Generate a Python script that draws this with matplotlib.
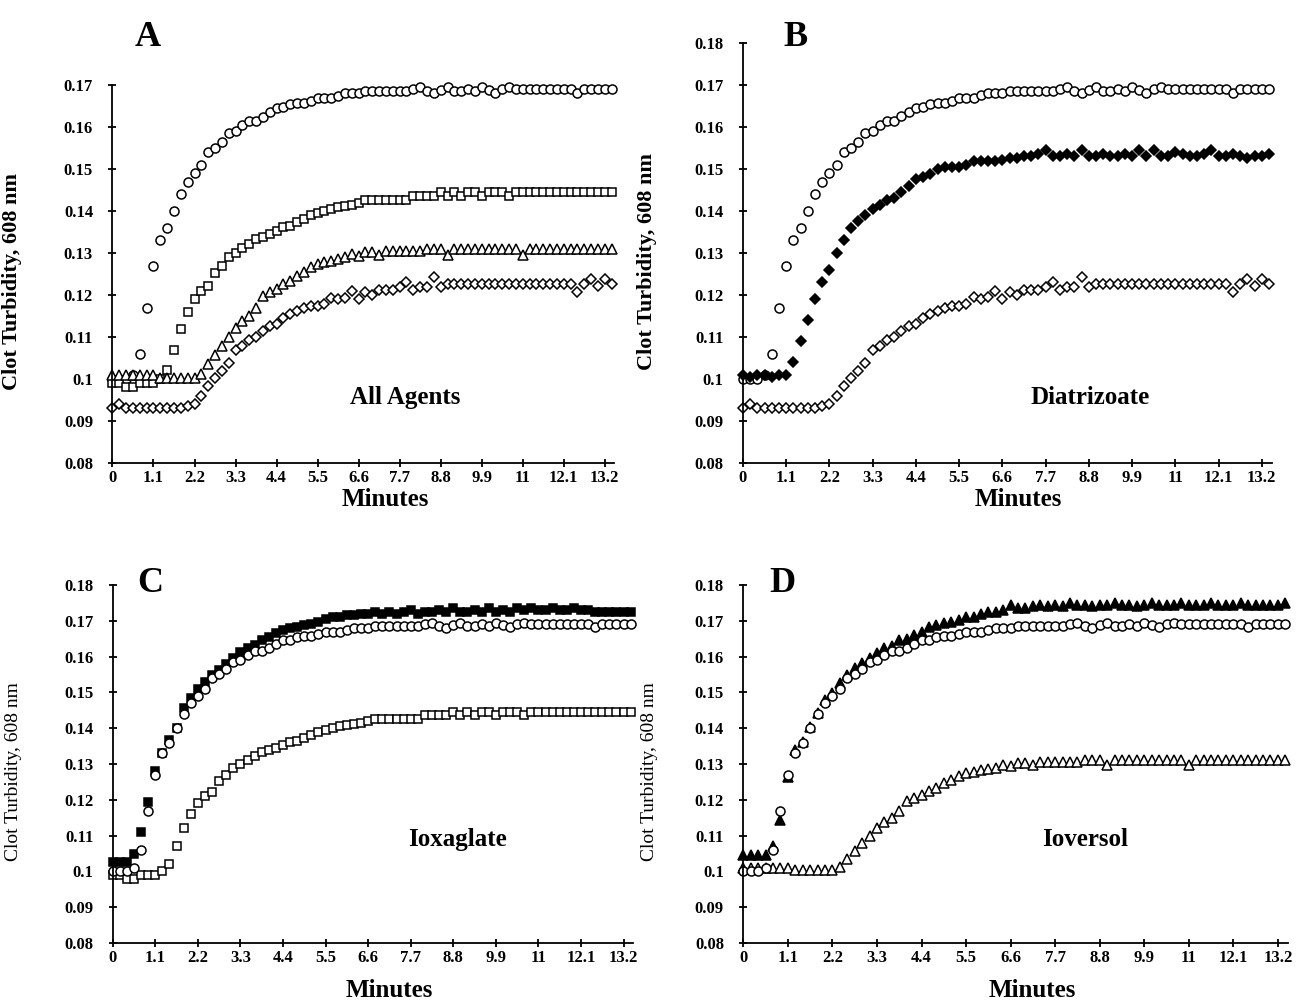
import numpy as np
import matplotlib
matplotlib.use("Agg")
import matplotlib.pyplot as plt
from matplotlib.ticker import FuncFormatter, MultipleLocator

plt.rcParams["font.family"] = ["Liberation Serif", "DejaVu Serif"]

# readings every 11 s, 74 samples
n_points = 74
minutes = np.arange(n_points) * 11 / 60.0

x_ticks = [0, 1.1, 2.2, 3.3, 4.4, 5.5, 6.6, 7.7, 8.8, 9.9, 11, 12.1, 13.2]

# control (open circle), shared by all panels
control = [
    0.1000, 0.1000, 0.1000, 0.1010, 0.1060, 0.1170, 0.1270, 0.1330, 0.1360, 0.1400,
    0.1440, 0.1470, 0.1490, 0.1510, 0.1540, 0.1550, 0.1565, 0.1585, 0.1590, 0.1605,
    0.1615, 0.1615, 0.1625, 0.1635, 0.1645, 0.1647, 0.1655, 0.1657, 0.1657, 0.1662,
    0.1668, 0.1668, 0.1668, 0.1675, 0.1680, 0.1680, 0.1680, 0.1686, 0.1686, 0.1686,
    0.1686, 0.1686, 0.1686, 0.1686, 0.1690, 0.1695, 0.1686, 0.1680, 0.1688, 0.1695,
    0.1686, 0.1686, 0.1690, 0.1686, 0.1695, 0.1688, 0.1682, 0.1690, 0.1695, 0.1690,
    0.1690, 0.1690, 0.1690, 0.1690, 0.1690, 0.1690, 0.1690, 0.1690, 0.1682, 0.1690,
    0.1690, 0.1690, 0.1690, 0.1690,
]

# ioxaglate alone (open square)
ioxaglate = [
    0.0990, 0.0990, 0.0980, 0.0980, 0.0990, 0.0990, 0.0990, 0.1000, 0.1022, 0.1070,
    0.1120, 0.1160, 0.1190, 0.1210, 0.1222, 0.1252, 0.1270, 0.1290, 0.1300, 0.1312,
    0.1322, 0.1334, 0.1338, 0.1345, 0.1353, 0.1361, 0.1365, 0.1373, 0.1380, 0.1390,
    0.1395, 0.1400, 0.1405, 0.1410, 0.1413, 0.1415, 0.1420, 0.1425, 0.1425, 0.1425,
    0.1425, 0.1425, 0.1425, 0.1425, 0.1436, 0.1436, 0.1436, 0.1436, 0.1445, 0.1436,
    0.1445, 0.1436, 0.1445, 0.1445, 0.1436, 0.1445, 0.1445, 0.1445, 0.1436, 0.1445,
    0.1445, 0.1445, 0.1445, 0.1445, 0.1445, 0.1445, 0.1445, 0.1445, 0.1445, 0.1445,
    0.1445, 0.1445, 0.1445, 0.1445,
]

# ioversol alone (open triangle)
ioversol = [
    0.1010, 0.1010, 0.1010, 0.1010, 0.1010, 0.1010, 0.1010, 0.1003, 0.1003, 0.1003,
    0.1003, 0.1003, 0.1003, 0.1012, 0.1035, 0.1058, 0.1078, 0.1100, 0.1122, 0.1138,
    0.1150, 0.1170, 0.1198, 0.1206, 0.1214, 0.1226, 0.1234, 0.1246, 0.1254, 0.1266,
    0.1274, 0.1278, 0.1282, 0.1286, 0.1290, 0.1298, 0.1294, 0.1302, 0.1302, 0.1296,
    0.1305, 0.1305, 0.1305, 0.1305, 0.1305, 0.1305, 0.1310, 0.1310, 0.1310, 0.1296,
    0.1310, 0.1310, 0.1310, 0.1310, 0.1310, 0.1310, 0.1310, 0.1310, 0.1310, 0.1310,
    0.1296, 0.1310, 0.1310, 0.1310, 0.1310, 0.1310, 0.1310, 0.1310, 0.1310, 0.1310,
    0.1310, 0.1310, 0.1310, 0.1310,
]

# diatrizoate alone (open diamond)
diatrizoate = [
    0.0930, 0.0940, 0.0930, 0.0930, 0.0930, 0.0930, 0.0930, 0.0930, 0.0930, 0.0930,
    0.0930, 0.0935, 0.0940, 0.0960, 0.0983, 0.1003, 0.1018, 0.1038, 0.1068, 0.1078,
    0.1093, 0.1100, 0.1114, 0.1126, 0.1130, 0.1146, 0.1154, 0.1162, 0.1170, 0.1174,
    0.1174, 0.1178, 0.1194, 0.1190, 0.1194, 0.1210, 0.1190, 0.1206, 0.1200, 0.1212,
    0.1212, 0.1212, 0.1218, 0.1230, 0.1212, 0.1220, 0.1220, 0.1242, 0.1220, 0.1226,
    0.1226, 0.1226, 0.1226, 0.1226, 0.1226, 0.1226, 0.1226, 0.1226, 0.1226, 0.1226,
    0.1226, 0.1226, 0.1226, 0.1226, 0.1226, 0.1226, 0.1226, 0.1226, 0.1206, 0.1226,
    0.1238, 0.1222, 0.1238, 0.1226,
]

# treated samples (filled markers)
diatrizoate_filled = [
    0.1010, 0.1005, 0.1010, 0.1010, 0.1005, 0.1010, 0.1010, 0.1040, 0.1090, 0.1140,
    0.1190, 0.1230, 0.1260, 0.1300, 0.1330, 0.1360, 0.1375, 0.1390, 0.1405, 0.1415,
    0.1425, 0.1432, 0.1445, 0.1460, 0.1475, 0.1482, 0.1487, 0.1500, 0.1505, 0.1505,
    0.1505, 0.1510, 0.1520, 0.1520, 0.1520, 0.1520, 0.1522, 0.1525, 0.1525, 0.1530,
    0.1530, 0.1535, 0.1545, 0.1530, 0.1530, 0.1535, 0.1530, 0.1545, 0.1530, 0.1530,
    0.1535, 0.1530, 0.1530, 0.1535, 0.1530, 0.1545, 0.1530, 0.1545, 0.1530, 0.1530,
    0.1540, 0.1535, 0.1530, 0.1530, 0.1535, 0.1545, 0.1530, 0.1530, 0.1535, 0.1530,
    0.1525, 0.1530, 0.1530, 0.1535,
]

ioxaglate_filled = [
    0.1027, 0.1027, 0.1027, 0.1050, 0.1110, 0.1195, 0.1280, 0.1332, 0.1367, 0.1400,
    0.1456, 0.1484, 0.1510, 0.1530, 0.1549, 0.1563, 0.1580, 0.1595, 0.1614, 0.1623,
    0.1632, 0.1646, 0.1655, 0.1665, 0.1674, 0.1680, 0.1683, 0.1688, 0.1690, 0.1697,
    0.1705, 0.1710, 0.1710, 0.1715, 0.1716, 0.1720, 0.1720, 0.1725, 0.1720, 0.1725,
    0.1720, 0.1725, 0.1730, 0.1720, 0.1725, 0.1725, 0.1730, 0.1725, 0.1735, 0.1725,
    0.1725, 0.1730, 0.1725, 0.1735, 0.1725, 0.1730, 0.1725, 0.1735, 0.1730, 0.1735,
    0.1730, 0.1730, 0.1735, 0.1730, 0.1730, 0.1735, 0.1730, 0.1730, 0.1725, 0.1725,
    0.1725, 0.1725, 0.1725, 0.1725,
]

ioversol_filled = [
    0.1046, 0.1046, 0.1046, 0.1046, 0.1070, 0.1144, 0.1265, 0.1339, 0.1362, 0.1404,
    0.1442, 0.1479, 0.1497, 0.1525, 0.1549, 0.1567, 0.1581, 0.1595, 0.1609, 0.1623,
    0.1630, 0.1646, 0.1650, 0.1660, 0.1670, 0.1684, 0.1688, 0.1693, 0.1697, 0.1702,
    0.1711, 0.1711, 0.1720, 0.1725, 0.1725, 0.1730, 0.1744, 0.1735, 0.1735, 0.1740,
    0.1745, 0.1740, 0.1745, 0.1740, 0.1750, 0.1745, 0.1745, 0.1740, 0.1745, 0.1745,
    0.1750, 0.1745, 0.1745, 0.1740, 0.1745, 0.1750, 0.1745, 0.1745, 0.1745, 0.1750,
    0.1745, 0.1745, 0.1745, 0.1750, 0.1745, 0.1745, 0.1745, 0.1750, 0.1745, 0.1745,
    0.1745, 0.1745, 0.1745, 0.1750,
]

MARKERS = {
    "circle": ("o", 6.5),
    "square": ("s", 6.3),
    "triangle": ("^", 7.5),
    "diamond": ("D", 5.0),
}

# letter, title, y max, axes rect (figure coords), series in drawing order,
# title position (data), ylabel x (axes), ylabel size/weight, xlabel position (axes)
panels = [
    ("A", "All Agents", 0.17, [0.0863, 0.5398, 0.3850, 0.3757],
     [(control, "circle", False), (ioxaglate, "square", False),
      (ioversol, "triangle", False), (diatrizoate, "diamond", False)],
     (7.85, 0.0957), -0.18, (16, "bold"), (0.543, -0.066)),
    ("B", "Diatrizoate", 0.18, [0.5702, 0.5398, 0.4057, 0.4175],
     [(control, "circle", False), (diatrizoate, "diamond", False),
      (diatrizoate_filled, "diamond", True)],
     (8.83, 0.0957), -0.163, (16, "bold"), (0.52, -0.06)),
    ("C", "Ioxaglate", 0.18, [0.0865, 0.0626, 0.3995, 0.3559],
     [(ioxaglate, "square", False), (ioxaglate_filled, "square", True),
      (control, "circle", False)],
     (8.92, 0.1088), -0.174, (14, "normal"), (0.531, -0.1)),
    ("D", "Ioversol", 0.18, [0.5705, 0.0626, 0.4180, 0.3559],
     [(ioversol, "triangle", False), (ioversol_filled, "triangle", True),
      (control, "circle", False)],
     (8.44, 0.1088), -0.157, (14, "normal"), (0.53, -0.1)),
]

fig = plt.figure(figsize=(13.03, 10.06), dpi=100)

for (letter, title, ymax, rect, series, title_pos, ylab_x,
     (ylab_size, ylab_weight), xlab_pos) in panels:
    ax = fig.add_axes(rect)

    for values, shape, filled in series:
        marker, size = MARKERS[shape]
        ax.plot(
            minutes,
            values,
            linestyle="none",
            marker=marker,
            markersize=size,
            markerfacecolor="black" if filled else "white",
            markeredgecolor="black",
            markeredgewidth=1.1,
            clip_on=False,
        )

    ax.set_xlim(0, 13.45)
    ax.set_ylim(0.08, ymax)
    ax.set_xticks(x_ticks)
    ax.xaxis.set_major_formatter(FuncFormatter(lambda v, p: f"{round(v, 1):g}"))
    ax.yaxis.set_major_locator(MultipleLocator(0.01))
    ax.yaxis.set_major_formatter(FuncFormatter(lambda v, p: f"{round(v, 2):g}"))

    for side in ["top", "right"]:
        ax.spines[side].set_visible(False)
    for side in ["left", "bottom"]:
        ax.spines[side].set_linewidth(1.3)

    ax.tick_params(direction="inout", length=6, width=1.3, labelsize=12)
    ax.tick_params(axis="y", pad=11)
    ax.tick_params(axis="x", pad=2)
    for lab in ax.get_xticklabels() + ax.get_yticklabels():
        lab.set_fontweight("bold")

    ax.set_ylabel("Clot Turbidity, 608 nm", fontsize=ylab_size, fontweight=ylab_weight)
    ax.yaxis.set_label_coords(ylab_x, 0.48)
    ax.set_xlabel("Minutes", fontsize=18, fontweight="bold")
    ax.xaxis.set_label_coords(*xlab_pos)

    ax.text(title_pos[0], title_pos[1], title, fontsize=18, fontweight="bold",
            ha="center", va="center")

letter_pos = {"A": (148, 38), "B": (796, 38), "C": (150, 583), "D": (782, 583)}
for letter, (px, py) in letter_pos.items():
    fig.text(px / 1303, 1 - py / 1006, letter, fontsize=26, fontweight="bold",
             ha="center", va="center")

fig.savefig("out.png", dpi=100, facecolor="white")
